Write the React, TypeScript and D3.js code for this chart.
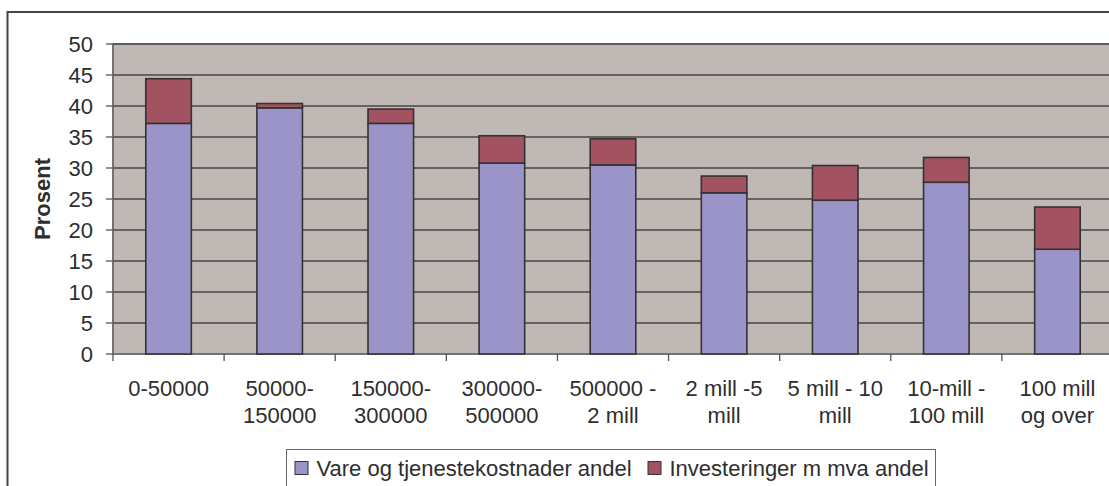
import React from "react";
import * as d3 from "d3";

const categories = [
  ["0-50000"],
  ["50000-", "150000"],
  ["150000-", "300000"],
  ["300000-", "500000"],
  ["500000 -", "2 mill"],
  ["2 mill -5", "mill"],
  ["5 mill - 10", "mill"],
  ["10-mill -", "100 mill"],
  ["100 mill", "og over"],
];
const vare = [37.2, 39.7, 37.2, 30.8, 30.5, 26.0, 24.8, 27.7, 16.9];
const invest = [7.2, 0.7, 2.3, 4.4, 4.2, 2.7, 5.6, 4.0, 6.8];
const yTicks = [0, 5, 10, 15, 20, 25, 30, 35, 40, 45, 50];
const seriesNames = ["Vare og tjenestekostnader andel", "Investeringer m mva andel"];
const colors = ["#9A94C8", "#A35261"];

const FONT = "'Liberation Sans', Arial, sans-serif";

export default function App() {
  const W = 1109, H = 486;
  const left = 113, top = 44, bottom = 354, right = 1113;
  const x = d3.scaleBand<number>().domain(d3.range(categories.length)).range([left, right]).paddingInner(0.59).paddingOuter(0.295);
  const band = d3.scaleBand<number>().domain(d3.range(categories.length)).range([left, right]);
  const y = d3.scaleLinear().domain([0, 50]).range([bottom, top]);
  const stack = d3.stack<number>().keys(["0", "1"]).value((i, k) => (k === "0" ? vare[i] : invest[i]));
  const series = stack(d3.range(categories.length));
  const fs = 22;
  return (
    <svg width={W} height={H} style={{ position: "absolute", left: 0, top: 0, background: "#fff" }}>
      <rect x={7.5} y={12} width={1200} height={600} fill="#fff" stroke="#444" strokeWidth={2} />
      <rect x={left} y={top} width={right - left} height={bottom - top} fill="#C0B8B5" stroke="#8a8280" strokeWidth={1.5} />
      {yTicks.map((t) => (
        <g key={t}>
          {t > 0 && <line x1={left} x2={right} y1={y(t)} y2={y(t)} stroke="#4a4444" strokeWidth={1.3} />}
          <line x1={left - 7} x2={left} y1={y(t)} y2={y(t)} stroke="#555" strokeWidth={1.3} />
          <text x={93} y={y(t)} dy="0.36em" textAnchor="end" fontFamily={FONT} fontSize={fs} fill="#2e2e2e">{t}</text>
        </g>
      ))}
      <line x1={left} x2={left} y1={top} y2={bottom} stroke="#666" strokeWidth={1.5} />
      <line x1={left} x2={right} y1={bottom} y2={bottom} stroke="#666" strokeWidth={1.5} />
      {d3.range(categories.length + 1).map((i) => {
        const xx = i < categories.length ? band(i)! : right;
        return <line key={i} x1={xx} x2={xx} y1={bottom} y2={bottom + 7} stroke="#555" strokeWidth={1.3} />;
      })}
      {series.map((s, si) => (
        <g key={si}>
          {s.map((d, i) => (
            <rect key={i} x={x(i)!} width={x.bandwidth()} y={y(d[1])} height={y(d[0]) - y(d[1])} fill={colors[si]} stroke="#333" strokeWidth={1.6} />
          ))}
        </g>
      ))}
      {categories.map((lines, i) => (
        <text key={i} textAnchor="middle" fontFamily={FONT} fontSize={fs} fill="#2e2e2e">
          {lines.map((l, j) => (
            <tspan key={j} x={band(i)! + band.bandwidth() / 2} y={395.5 + j * 27.5}>{l}</tspan>
          ))}
        </text>
      ))}
      <text transform={`translate(50,${(top + bottom) / 2}) rotate(-90)`} textAnchor="middle" fontFamily={FONT} fontSize={22} fontWeight="bold" fill="#2e2e2e">Prosent</text>
      <rect x={286.5} y={449.5} width={649} height={60} fill="#fff" stroke="#666" strokeWidth={1} />
      {seriesNames.map((n, i) => {
        const lx = i === 0 ? 295 : 648;
        return (
          <g key={i}>
            <rect x={lx} y={461.5} width={13} height={13} fill={colors[i]} stroke="#333" strokeWidth={1} />
            <text x={lx + 21.5} y={475.5} fontFamily={FONT} fontSize={fs} fill="#2e2e2e">{n}</text>
          </g>
        );
      })}
    </svg>
  );
}
